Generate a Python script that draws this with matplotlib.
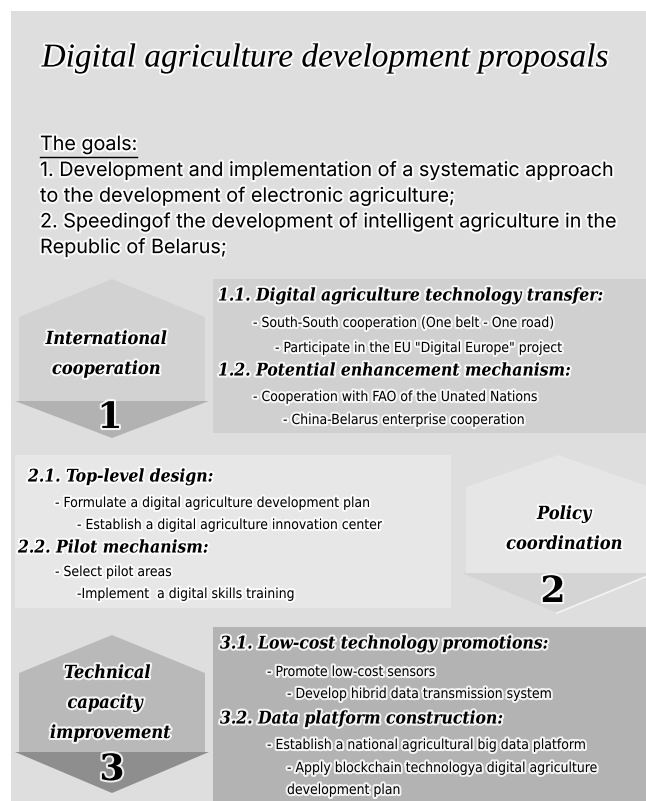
import matplotlib.pyplot as plt
from matplotlib.patches import Polygon, Rectangle
import matplotlib.patheffects as pe

title = "Digital agriculture development proposals"
goals_head = "The goals:"
goals_lines = [
    "1. Development and implementation of a systematic approach",
    "to the development of electronic agriculture;",
    "2. Speedingof the development of intelligent agriculture in the",
    "Republic of Belarus;",
]

hex_labels = [
    ["International", "cooperation"],
    ["Policy", "coordination"],
    ["Technical", "capacity", "improvement"],
]
hex_numbers = ["1", "2", "3"]

sec1_heads = ["1.1. Digital agriculture technology transfer:",
              "1.2. Potential enhancement mechanism:"]
sec1_items = [["- South-South cooperation (One belt - One road)",
               "- Participate in the EU \"Digital Europe\" project"],
              ["- Cooperation with FAO of the Unated Nations",
               "- China-Belarus enterprise cooperation"]]

sec2_heads = ["2.1. Top-level design:", "2.2. Pilot mechanism:"]
sec2_items = [["- Formulate a digital agriculture development plan",
               "- Establish a digital agriculture innovation center"],
              ["- Select pilot areas",
               "-Implement  a digital skills training"]]

sec3_heads = ["3.1. Low-cost technology promotions:",
              "3.2. Data platform construction:"]
sec3_items = [["- Promote low-cost sensors",
               "- Develop hibrid data transmission system"],
              ["- Establish a national agricultural big data platform",
               "- Apply blockchain technologya digital agriculture",
               "development plan"]]

glow = [pe.withStroke(linewidth=3, foreground="white", alpha=0.85)]


def hexagon(ax, cx, top, side_top, side_bot, bottom, half_w, c_up, c_low):
    up = [(cx, top), (cx - half_w, side_top), (cx - half_w, side_bot),
          (cx + half_w, side_bot), (cx + half_w, side_top)]
    low = [(cx - half_w - 4, side_bot), (cx + half_w + 4, side_bot), (cx, bottom)]
    ax.add_patch(Polygon(up, closed=True, fc=c_up, ec="none"))
    ax.add_patch(Polygon(low, closed=True, fc=c_low, ec="none"))


def label(ax, x, y, s, size=13):
    ax.text(x, y, s, ha="center", va="center", fontsize=size,
            family="DejaVu Serif", weight="bold", style="italic",
            stretch="condensed", color="black", path_effects=glow)


def head(ax, x, y, s):
    ax.text(x, y, s, ha="left", va="center", fontsize=12.5,
            family="DejaVu Serif", weight="bold", style="italic",
            stretch="condensed", color="black", path_effects=glow)


def item(ax, x, y, s):
    ax.text(x, y, s, ha="left", va="center", fontsize=10,
            family="DejaVu Sans", stretch="condensed", color="black",
            path_effects=glow)


def number(ax, x, y, s):
    ax.text(x, y, s, ha="center", va="center", fontsize=26,
            family="DejaVu Serif", weight="bold", color="black",
            path_effects=glow)


fig = plt.figure(figsize=(6.46, 8.01), dpi=100)
ax = fig.add_axes([0, 0, 1, 1])
ax.set_xlim(0, 646)
ax.set_ylim(801, 0)
ax.axis("off")

# grey panel
ax.add_patch(Rectangle((11, 11), 640, 800, fc="#dedede", ec="none"))

ax.text(326, 58, title, ha="center", va="center", fontsize=24,
        family="Liberation Serif", style="italic", color="black",
        path_effects=glow)

# goals
ax.text(40, 145, goals_head, ha="left", va="center", fontsize=14.2,
        family="Inter", color="black", path_effects=glow)
ax.plot([40, 137], [157, 157], color="black", lw=1)
for i, s in enumerate(goals_lines):
    ax.text(40, 171 + i * 25.7, s, ha="left", va="center", fontsize=14.2,
            family="Inter", color="black", path_effects=glow)

# section 1
ax.add_patch(Rectangle((213, 279), 440, 154, fc="#d0d0d0", ec="none"))
hexagon(ax, 112, 279, 317, 401, 438, 93, "#d2d2d2", "#b2b2b2")
label(ax, 106, 339, hex_labels[0][0])
label(ax, 106, 369, hex_labels[0][1])
number(ax, 110, 418, hex_numbers[0])
head(ax, 218, 296, sec1_heads[0])
item(ax, 253, 323, sec1_items[0][0])
item(ax, 275, 348, sec1_items[0][1])
head(ax, 218, 371, sec1_heads[1])
item(ax, 253, 397, sec1_items[1][0])
item(ax, 283, 420, sec1_items[1][1])

# section 2
ax.add_patch(Rectangle((15, 455), 436, 153, fc="#e7e7e7", ec="none"))
hexagon(ax, 558, 455, 487, 573, 613, 92, "#e6e6e6", "#d4d4d4")
ax.plot([557, 650], [613, 575], color="#f4f4f4", lw=1.2)
label(ax, 564, 514, hex_labels[1][0])
label(ax, 564, 544, hex_labels[1][1])
number(ax, 553, 592, hex_numbers[1])
head(ax, 28, 477, sec2_heads[0])
item(ax, 55, 503, sec2_items[0][0])
item(ax, 77, 525, sec2_items[0][1])
head(ax, 18, 548, sec2_heads[1])
item(ax, 55, 572, sec2_items[1][0])
item(ax, 77, 594, sec2_items[1][1])

# section 3
ax.add_patch(Rectangle((213, 627), 440, 180, fc="#b3b3b3", ec="none"))
hexagon(ax, 112, 635, 673, 752, 793, 93, "#b9b9b9", "#8e8e8e")
label(ax, 107, 673, hex_labels[2][0])
label(ax, 105, 703, hex_labels[2][1])
label(ax, 110, 733, hex_labels[2][2])
number(ax, 112, 770, hex_numbers[2])
head(ax, 220, 644, sec3_heads[0])
item(ax, 267, 672, sec3_items[0][0])
item(ax, 287, 694, sec3_items[0][1])
head(ax, 220, 719, sec3_heads[1])
item(ax, 267, 745, sec3_items[1][0])
item(ax, 287, 768, sec3_items[1][1])
item(ax, 287, 790, sec3_items[1][2])

fig.savefig("out.png", dpi=100, facecolor="white")
